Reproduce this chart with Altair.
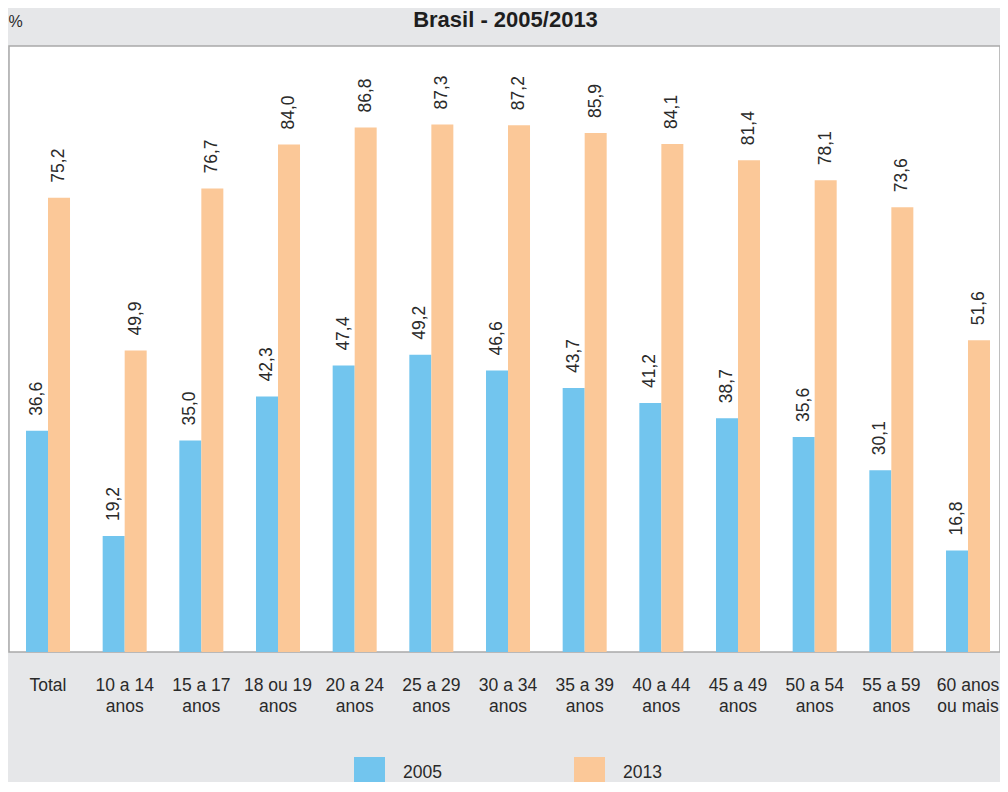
import altair as alt
import pandas as pd

categories = ["Total", "10 a 14 anos", "15 a 17 anos", "18 ou 19 anos", "20 a 24 anos",
              "25 a 29 anos", "30 a 34 anos", "35 a 39 anos", "40 a 44 anos",
              "45 a 49 anos", "50 a 54 anos", "55 a 59 anos", "60 anos ou mais"]
values_2005 = [36.6, 19.2, 35.0, 42.3, 47.4, 49.2, 46.6, 43.7, 41.2, 38.7, 35.6, 30.1, 16.8]
values_2013 = [75.2, 49.9, 76.7, 84.0, 86.8, 87.3, 87.2, 85.9, 84.1, 81.4, 78.1, 73.6, 51.6]
years = ["2005", "2013"]
title_text = "Brasil - 2005/2013"

rows = []
for c, a, b in zip(categories, values_2005, values_2013):
    for y, v in zip(years, (a, b)):
        rows.append({"cat": c, "ano": y, "valor": v,
                     "rotulo": f"{v:.1f}".replace(".", ",")})
df = pd.DataFrame(rows)

FONT = "Liberation Sans"

label_expr = ("datum.value == 'Total' ? 'Total' : "
              "datum.value == '60 anos ou mais' ? ['60 anos', 'ou mais'] : "
              "[replace(datum.value, ' anos', ''), 'anos']")

xscale = alt.Scale(paddingInner=0.426, paddingOuter=0.176, align=0.63)
x_bottom = alt.X("cat:N", sort=categories, scale=xscale,
                 axis=alt.Axis(orient="bottom", title=None, labelAngle=0, domain=False,
                               ticks=False, labelExpr=label_expr, labelFontSize=17.5,
                               labelFont=FONT, labelColor="#2a2a2a", labelPadding=24,
                               labelLineHeight=21, labelBaseline="top"))
x_top = alt.X("cat:N", sort=categories, scale=xscale,
              axis=alt.Axis(orient="top", title=title_text, labels=False, domain=False,
                            ticks=False, titleFontSize=22, titleFontWeight="bold",
                            titleFont=FONT, titleColor="#1e1e1e", titleAlign="center",
                            titleAnchor="middle", titleBaseline="alphabetic",
                            titleX=496, titleY=-20))
y = alt.Y("valor:Q", scale=alt.Scale(domain=[0, 100.3], nice=False),
          axis=alt.Axis(title="%", labels=False, ticks=False, domain=False, grid=False,
                        titleAngle=0, titleAlign="left", titleBaseline="top",
                        titleX=-1, titleY=-33, titleFontSize=16, titleFontWeight="normal",
                        titleFont=FONT, titleColor="#2a2a2a"))
xoff = alt.XOffset("ano:N", sort=years, scale=alt.Scale(paddingInner=0, paddingOuter=0))

color = alt.Color("ano:N", sort=years,
                  scale=alt.Scale(domain=years, range=["#72c5ee", "#fbc898"]),
                  legend=alt.Legend(title=None, orient="none", legendX=345, legendY=711,
                                    direction="horizontal", symbolType="square",
                                    symbolSize=961, symbolStrokeWidth=0,
                                    labelFontSize=17.5, labelFont=FONT, labelColor="#2a2a2a",
                                    labelOffset=18, columnPadding=132))

base = alt.Chart(df)
bars = base.mark_bar().encode(x=x_bottom, y=y, xOffset=xoff, color=color)
labels = base.mark_text(angle=270, align="left", baseline="middle", dx=15,
                        fontSize=17.5, font=FONT, color="#2a2a2a").encode(
    x=x_top, y=y, xOffset=xoff, text="rotulo:N")

chart = alt.layer(bars, labels).resolve_axis(x="independent").properties(
    width=991, height=606,
    padding={"left": 1, "top": 38, "right": 0, "bottom": 130},
    autosize=alt.AutoSizeParams(type="none"),
    background="#e6e7e9",
).configure_view(fill="white", stroke="#a9a9a9", strokeWidth=1.5)

chart.save("out.html", embed_options={"renderer": "svg", "actions": False})
